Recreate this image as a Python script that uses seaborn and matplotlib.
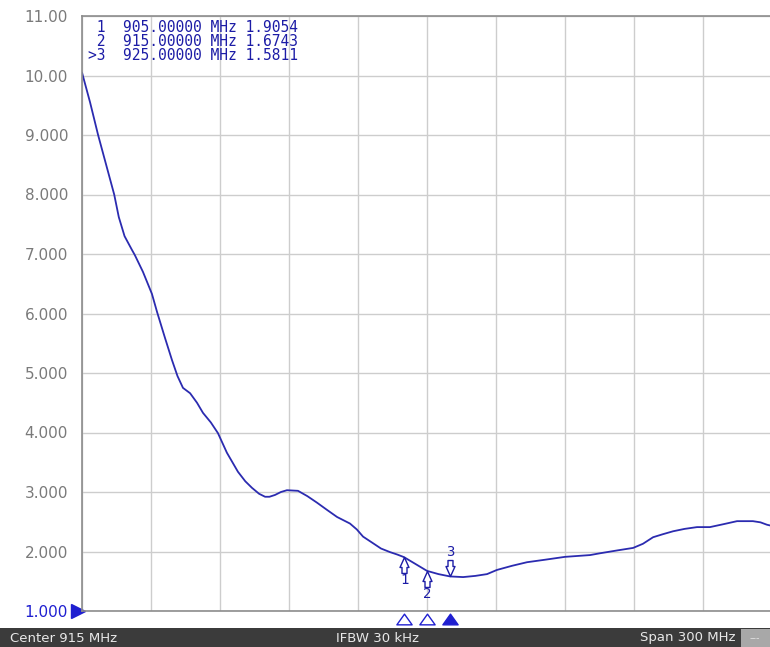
import pandas as pd
import matplotlib
matplotlib.use('Agg')
import matplotlib.pyplot as plt
import matplotlib.transforms as mtransforms
from matplotlib.patches import Rectangle
from matplotlib.path import Path
import seaborn as sns

# SWR trace (MHz, SWR)
freq_mhz = [765, 768.5, 772, 775.5, 779, 781, 783.5, 786.7, 788, 791.5,
            795.4, 797.6, 801, 804.1, 806.5, 808.9, 812, 815, 817.6, 821,
            824.1, 828, 832.8, 836, 838.9, 842, 844.6, 846.5, 848.9, 851.5,
            854.1, 858.9, 863, 867.2, 871.5, 875.9, 881.5, 884.5, 887.2, 891.5,
            895, 898.9, 902, 905, 910, 915, 920, 925, 930.7, 936,
            941.1, 945.4, 952, 958.5, 966, 975, 985.9, 990.2, 998, 1004.6,
            1008.9, 1013.3, 1017.5, 1022, 1027, 1032.4, 1038, 1044, 1049.8, 1056.7,
            1060, 1062.8, 1065]
swr = [10.05, 9.55, 9.0, 8.5, 8.0, 7.62, 7.3, 7.07, 6.98, 6.7,
       6.33, 6.03, 5.6, 5.22, 4.95, 4.75, 4.66, 4.5, 4.33, 4.17,
       3.99, 3.66, 3.34, 3.18, 3.07, 2.97, 2.92, 2.92, 2.95, 3.0,
       3.03, 3.02, 2.93, 2.82, 2.70, 2.58, 2.47, 2.37, 2.25, 2.14,
       2.05, 1.99, 1.95, 1.9054, 1.79, 1.6743, 1.62, 1.5811, 1.57, 1.59,
       1.62, 1.69, 1.76, 1.82, 1.86, 1.91, 1.94, 1.97, 2.02, 2.06,
       2.13, 2.24, 2.29, 2.34, 2.38, 2.41, 2.41, 2.46, 2.51, 2.51,
       2.49, 2.45, 2.43]

# markers
marker_ids = ['1', '2', '3']
marker_freq = [905, 915, 925]
marker_swr = [1.9054, 1.6743, 1.5811]
marker_lines = [' 1  905.00000 MHz 1.9054',
                ' 2  915.00000 MHz 1.6743',
                '>3  925.00000 MHz 1.5811']

y_ticks = [1, 2, 3, 4, 5, 6, 7, 8, 9, 10, 11]
y_labels = ['1.000', '2.000', '3.000', '4.000', '5.000', '6.000',
            '7.000', '8.000', '9.000', '10.00', '11.00']
x_grid = list(range(765, 1066, 30))

trace_blue = '#2b2bb0'
text_blue = '#1c1ca6'
ref_blue = '#1f1fd0'

# pin shaped marker, tip at the origin
pin_up = Path([(0, 0), (4.5, -10), (2.5, -10), (2.5, -16), (-2.5, -16), (-2.5, -10),
               (-4.5, -10), (0, 0)], closed=True)
pin_down = Path([(x, -y) for x, y in pin_up.vertices], closed=True)
flat_tri = Path([(-1, -0.7), (1, -0.7), (0, 0.7), (-1, -0.7)], closed=True)

sns.set_style('white')
plt.rcParams['font.family'] = ['DejaVu Sans']

W, H = 770, 647
fig = plt.figure(figsize=(W / 100, H / 100), dpi=100)
ax = fig.add_axes([82 / W, 36 / H, 690 / W, 595 / H])

df = pd.DataFrame({'Frequency (MHz)': freq_mhz, 'SWR': swr})
sns.lineplot(data=df, x='Frequency (MHz)', y='SWR', ax=ax,
             color=trace_blue, linewidth=1.3)

ax.set_xlim(765, 1065)
ax.set_ylim(1, 11)
ax.set_xticks(x_grid)
ax.set_xticklabels([])
ax.set_yticks(y_ticks)
ax.set_yticklabels(y_labels)
ax.tick_params(axis='x', length=0)
ax.tick_params(axis='y', length=0, pad=10, labelsize=11, labelcolor='#7a7a7a')
ax.get_yticklabels()[0].set_color(ref_blue)
ax.grid(True, color='#cdcdcd', linewidth=1)
ax.set_xlabel('')
ax.set_ylabel('')
for side in ['left', 'bottom', 'top']:
    ax.spines[side].set_color('#8c8c8c')
    ax.spines[side].set_linewidth(1.2)
ax.spines['right'].set_visible(False)

# reference level arrow on the left
ref_tr = mtransforms.blended_transform_factory(ax.transAxes, ax.transData)
ax.plot([-0.006], [1], marker='>', ms=10, color=ref_blue, transform=ref_tr,
        clip_on=False)

# marker pins on the trace
for mid, f, v in zip(marker_ids, marker_freq, marker_swr):
    active = mid == '3'
    ax.plot([f], [v], marker=pin_down if active else pin_up, ms=23, mfc='white',
            mec=text_blue, mew=1, linestyle='none', clip_on=False, zorder=4)
    ax.annotate(mid, (f, v), xytext=(0, 17.5 if active else -16.5),
                textcoords='offset points', ha='center', va='center',
                fontsize=10, color=text_blue, family='DejaVu Sans Mono')

# marker position triangles under the grid
pos_tr = mtransforms.blended_transform_factory(ax.transData, ax.transAxes)
for mid, f in zip(marker_ids, marker_freq):
    active = mid == '3'
    ax.plot([f], [-0.0134], marker=flat_tri, ms=11,
            mfc=ref_blue if active else 'white', mec=ref_blue, mew=1,
            transform=pos_tr, clip_on=False)

# marker readout table
for i, line in enumerate(marker_lines):
    fig.text(88 / W, 1 - (27 + 14 * i) / H, line, ha='left', va='center',
             fontsize=10.5, color=text_blue, family='DejaVu Sans Mono')

# status bar
fig.patches.append(Rectangle((0, 0), 1, 19 / H, transform=fig.transFigure,
                             facecolor='#3b3b3b', edgecolor='none', zorder=5))
fig.patches.append(Rectangle((741 / W, 0), 29 / W, 18 / H, transform=fig.transFigure,
                             facecolor='#a8a8a8', edgecolor='none', zorder=6))
bar_y = 1 - 638 / H
fig.text(10 / W, bar_y, 'Center 915 MHz', ha='left', va='center',
         fontsize=9.5, color='#e8e8e8', zorder=7)
fig.text(378 / W, bar_y, 'IFBW 30 kHz', ha='center', va='center',
         fontsize=9.5, color='#e8e8e8', zorder=7)
fig.text(735 / W, bar_y, 'Span 300 MHz', ha='right', va='center',
         fontsize=9.5, color='#e8e8e8', zorder=7)
fig.text(755 / W, bar_y, '---', ha='center', va='center',
         fontsize=7, color='#e0e0e0', zorder=7)

fig.savefig('out.png', dpi=100, facecolor='white')
